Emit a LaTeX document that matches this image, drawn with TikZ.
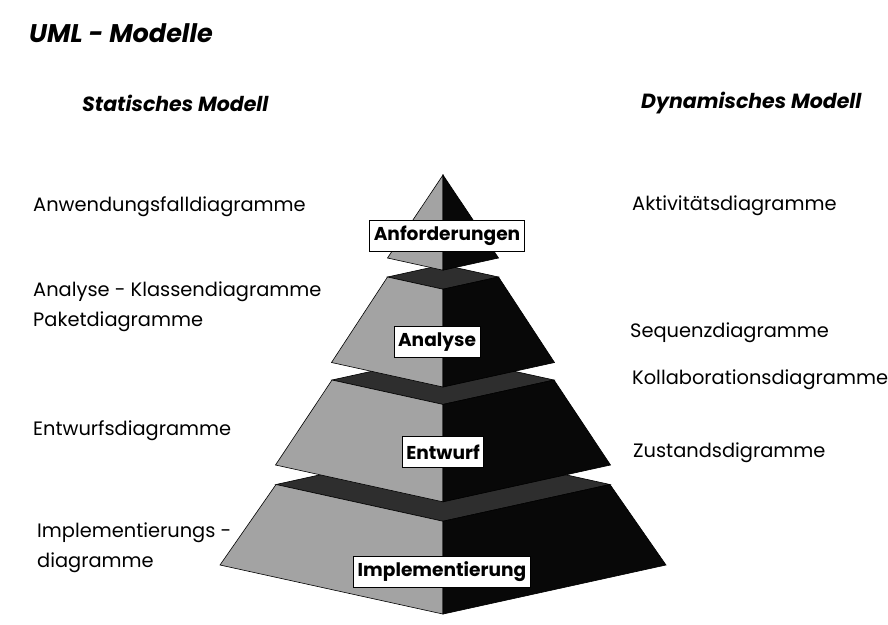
\documentclass[tikz,border=0pt]{standalone}
\usepackage{fontspec}
\setmainfont{Poppins}
\usepackage{tikz}

\begin{document}
\begin{tikzpicture}
[
x=1pt, y=-1pt,
title_text/.style={anchor=west, inner sep=0pt, font=\fontsize{25.5}{28}\selectfont\bfseries\itshape},
head_text/.style={anchor=west, inner sep=0pt, font=\fontsize{20.5}{24}\selectfont\bfseries\itshape},
diag_text/.style={anchor=west, inner sep=0pt, align=left, font=\fontsize{19.4}{30}\selectfont},
layer_box/.style={draw=black, fill=white, line width=0.6pt, minimum height=31pt, inner xsep=4pt, font=\fontsize{18.6}{20}\selectfont\bfseries},
face_left/.style={fill=black!36, draw=black, line width=0.6pt},
face_right/.style={fill=black!97, draw=black, line width=0.6pt},
face_top/.style={fill=black!82, draw=black, line width=0.6pt}
]
\useasboundingbox[fill=white] (0,0) rectangle (888,624);

%Pyramid (top half width/top y/bottom half width/bottom y), lowest layer first
\foreach \ht/\yt/\hb/\yb in {167/484.5/223/565, 111/380/167.5/465, 55.5/277/111.5/362.5, 0/175/55.5/258}
{
  \filldraw[face_top]   (443-\ht,\yt) -- (443,\yt-0.22*\ht) -- (443+\ht,\yt) -- (443,\yt+0.22*\ht) -- cycle;
  \filldraw[face_left]  (443-\ht,\yt) -- (443,\yt+0.22*\ht) -- (443,\yb+0.22*\hb) -- (443-\hb,\yb) -- cycle;
  \filldraw[face_right] (443+\ht,\yt) -- (443,\yt+0.22*\ht) -- (443,\yb+0.22*\hb) -- (443+\hb,\yb) -- cycle;
}

%Nodes
\node[title_text]  (uml)     at (29,33)   {UML - Modelle};
\node[head_text]   (static)  at (82,103)  {Statisches Modell};
\node[head_text]   (dynamic) at (641,103) {Dynamisches Modell};

\node[layer_box]   (req)     at (447,236) {Anforderungen};
\node[layer_box]   (ana)     at (437,342) {Analyse};
\node[layer_box]   (des)     at (443,452) {Entwurf};
\node[layer_box]   (impl)    at (442,572) {Implementierung};

\node[diag_text]   (usecase) at (33,207)  {Anwendungsfalldiagramme};
\node[diag_text]   (class)   at (33,307)  {Analyse - Klassendiagramme\\Paketdiagramme};
\node[diag_text]   (design)  at (33,431)  {Entwurfsdiagramme};
\node[diag_text]   (deploy)  at (37,548)  {Implementierungs -\\diagramme};

\node[diag_text]   (activity) at (632,206) {Aktivitätsdiagramme};
\node[diag_text]   (sequence) at (630,333) {Sequenzdiagramme};
\node[diag_text]   (collab)   at (632,380) {Kollaborationsdiagramme};
\node[diag_text]   (state)    at (633,453) {Zustandsdigramme};

\end{tikzpicture}
\end{document}
